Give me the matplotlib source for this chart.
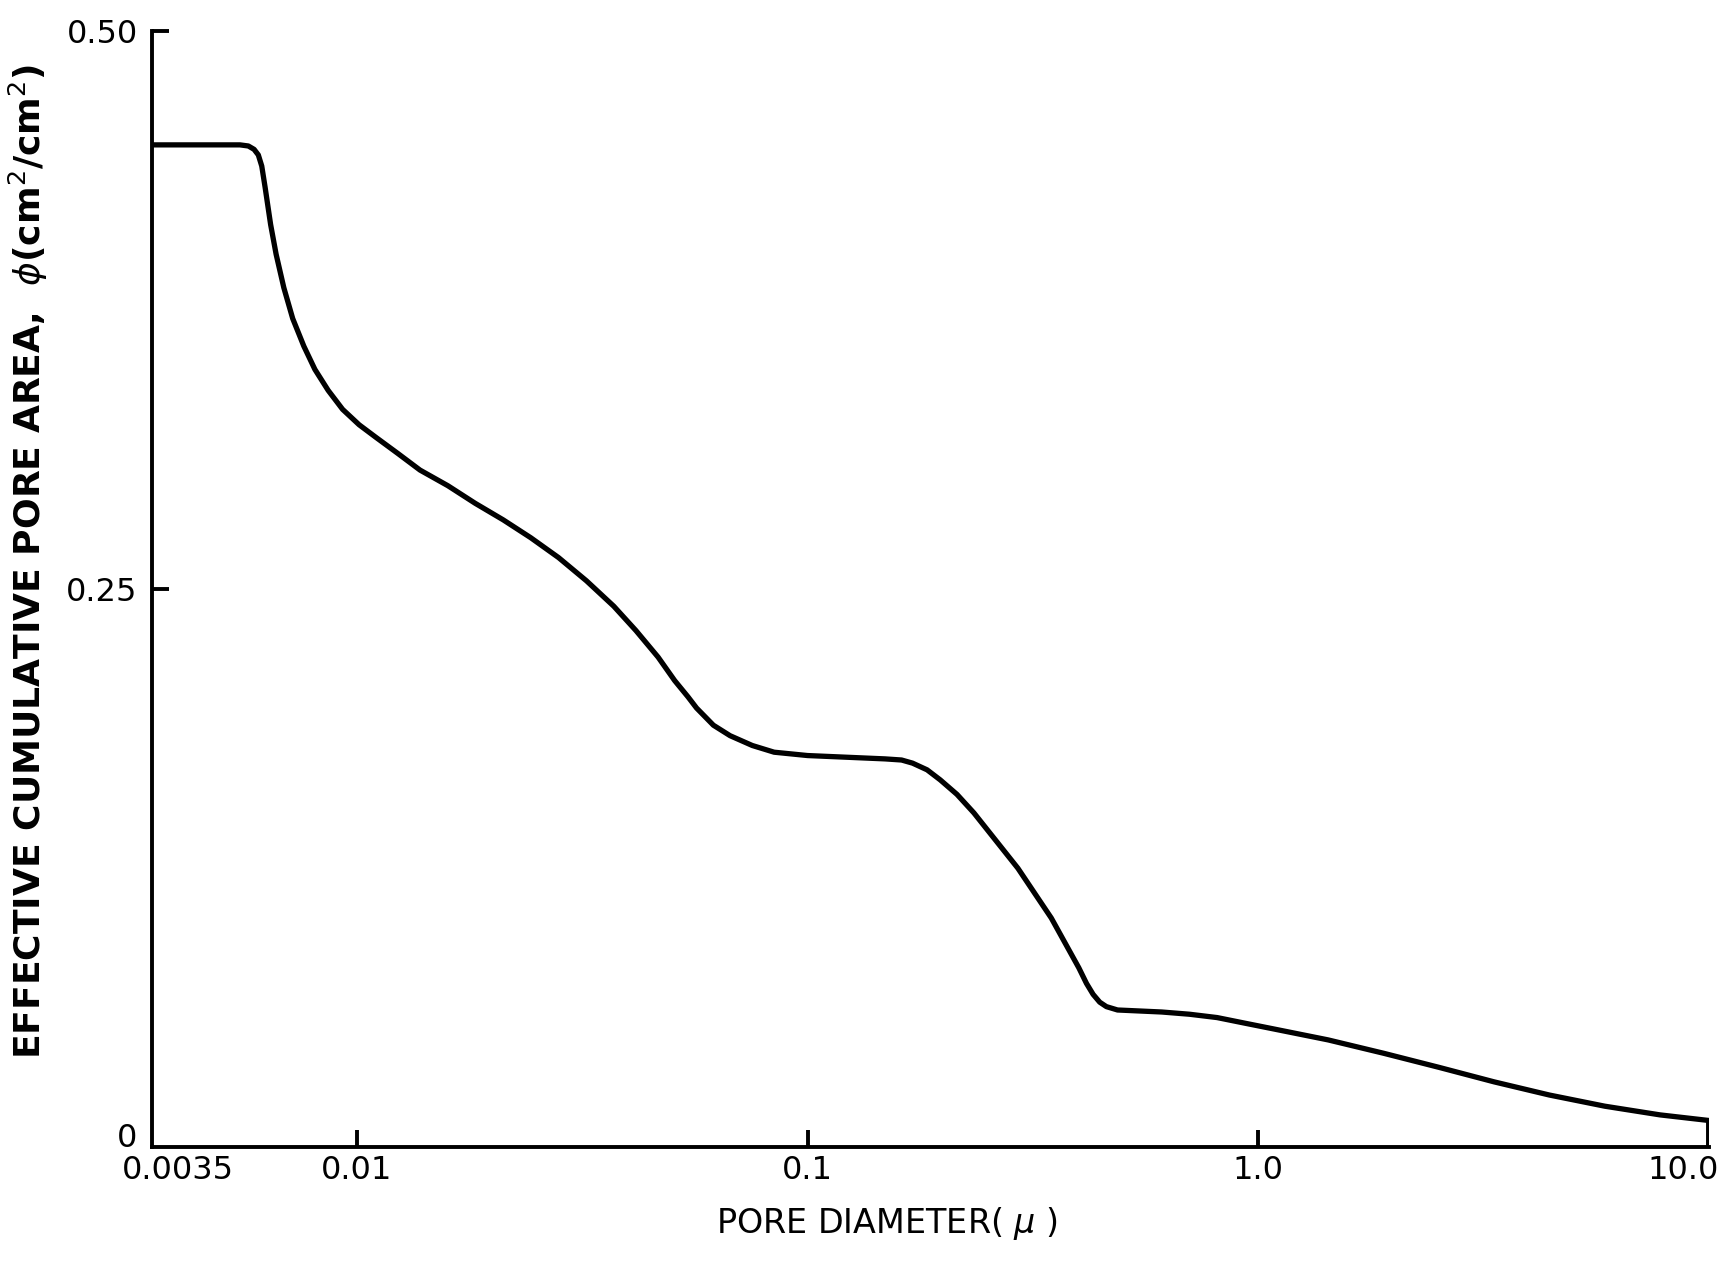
import numpy as np
import matplotlib.pyplot as plt
import matplotlib.transforms as mtransforms

# pore diameter (micron) and effective cumulative pore area
diameter = [0.0035, 0.0055, 0.00574, 0.00591, 0.00604, 0.006147, 0.006253, 0.006432,
            0.006615, 0.006881, 0.00720, 0.007622, 0.008065, 0.008631, 0.009292,
            0.01011, 0.01101, 0.01233, 0.0138, 0.01591, 0.0183, 0.02111, 0.0243,
            0.02801, 0.0323, 0.03715, 0.0416, 0.04659, 0.0507, 0.05428,
            0.0567, 0.0618, 0.0673, 0.0754, 0.0843, 0.100, 0.1486, 0.1617, 0.171,
            0.1842, 0.197, 0.2146, 0.234, 0.293, 0.3475, 0.400, 0.416, 0.4303,
            0.4451, 0.4606, 0.4875, 0.611, 0.704, 0.811, 0.934, 1.077, 1.43, 1.90,
            2.52, 3.34, 4.43, 5.88, 7.80, 10.0, 10.0]
pore_area = [0.449, 0.449, 0.4485, 0.447, 0.4445, 0.4395, 0.430, 0.4133,
             0.400, 0.385, 0.3712, 0.3588, 0.3484, 0.339, 0.3305,
             0.3236, 0.318, 0.3107, 0.3033, 0.2963, 0.2884, 0.281, 0.273,
             0.2641, 0.2537, 0.2423, 0.2314, 0.2195, 0.209, 0.2017,
             0.1967, 0.189, 0.1843, 0.1799, 0.1769, 0.1754, 0.1739, 0.1734, 0.172,
             0.169, 0.1645, 0.158, 0.1497, 0.1249, 0.1026, 0.0803, 0.0733, 0.0684,
             0.0649, 0.0629, 0.0614, 0.0605, 0.0595, 0.058, 0.0555, 0.053, 0.048, 0.042,
             0.0357, 0.0292, 0.0233, 0.0183, 0.0144, 0.0119, 0.0]

xticks = [0.0035, 0.01, 0.1, 1.0, 10.0]
xtick_labels = ['0.0035', '0.01', '0.1', '1.0', '10.0']
yticks = [0, 0.25, 0.50]
ytick_labels = ['0', '0.25', '0.50']

fig = plt.figure(figsize=(17.34, 12.62), dpi=100)
ax = fig.add_axes([0.0874, 0.0911, 0.898, 0.8843])

ax.plot(diameter, pore_area, color='black', lw=3.8, solid_joinstyle='round',
        solid_capstyle='round')

ax.set_xscale('log')
ax.set_xlim(0.0035, 10.0)
ax.set_ylim(0, 0.50)

for side in ['top', 'right']:
    ax.spines[side].set_visible(False)
for side in ['left', 'bottom']:
    ax.spines[side].set_linewidth(2.8)

ax.xaxis.set_minor_locator(plt.NullLocator())
ax.set_xticks(xticks, xtick_labels)
ax.set_yticks(yticks, ytick_labels)
ax.tick_params(axis='both', direction='in', length=12, width=2.8,
               labelsize=23, colors='black')
ax.tick_params(axis='x', pad=6)
ax.tick_params(axis='y', pad=10)

# hide marks at the axis ends, keep the labels
xt = ax.xaxis.get_major_ticks()
xt[0].tick1line.set_visible(False)
xt[-1].tick1line.set_visible(False)
ax.yaxis.get_major_ticks()[0].tick1line.set_visible(False)

# nudge end labels like the original lettering
lab = ax.get_xticklabels()
lab[0].set_transform(lab[0].get_transform() +
                     mtransforms.ScaledTranslation(0.26, 0, fig.dpi_scale_trans))
lab[-1].set_transform(lab[-1].get_transform() +
                      mtransforms.ScaledTranslation(-0.26, 0, fig.dpi_scale_trans))
ylab = ax.get_yticklabels()
ylab[0].set_transform(ylab[0].get_transform() +
                      mtransforms.ScaledTranslation(0, 0.12, fig.dpi_scale_trans))

ax.set_xlabel(r'PORE DIAMETER( $\mu$ )', fontsize=24)
ax.xaxis.set_label_coords(0.472, -0.052)
ax.set_ylabel(r'EFFECTIVE CUMULATIVE PORE AREA,  $\phi$(cm$^2$/cm$^2$)',
              fontsize=26, fontweight='bold')
ax.yaxis.set_label_coords(-0.065, 0.525)

plt.savefig('out.png', dpi=100)
